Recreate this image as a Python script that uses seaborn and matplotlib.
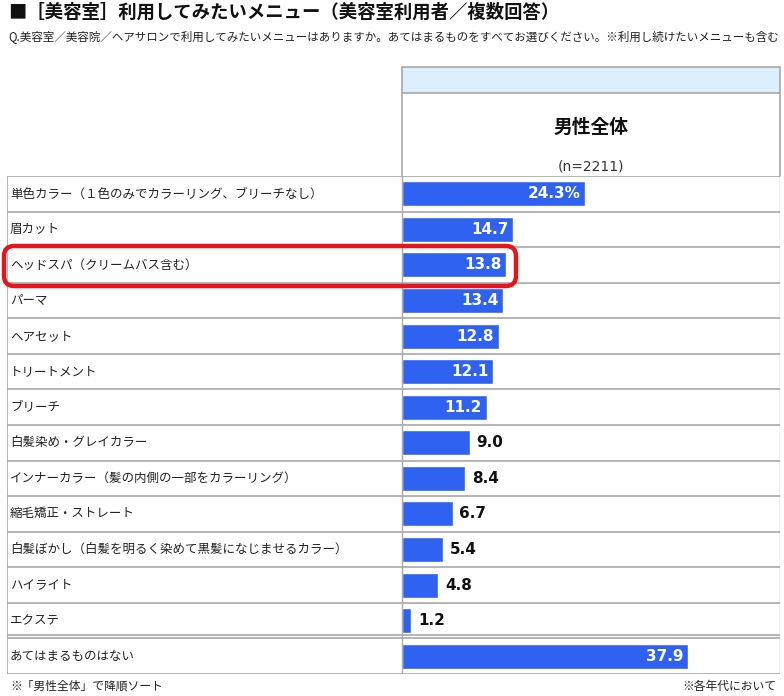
import matplotlib
matplotlib.use("Agg")
import matplotlib.pyplot as plt
from matplotlib.patches import Rectangle, FancyBboxPatch
import pandas as pd
import seaborn as sns

# データ
menus = [
    "単色カラー（１色のみでカラーリング、ブリーチなし）",
    "眉カット",
    "ヘッドスパ（クリームバス含む）",
    "パーマ",
    "ヘアセット",
    "トリートメント",
    "ブリーチ",
    "白髪染め・グレイカラー",
    "インナーカラー（髪の内側の一部をカラーリング）",
    "縮毛矯正・ストレート",
    "白髪ぼかし（白髪を明るく染めて黒髪になじませるカラー）",
    "ハイライト",
    "エクステ",
    "あてはまるものはない",
]
values = [24.3, 14.7, 13.8, 13.4, 12.8, 12.1, 11.2, 9.0, 8.4, 6.7, 5.4, 4.8, 1.2, 37.9]
value_labels = ["24.3%", "14.7", "13.8", "13.4", "12.8", "12.1", "11.2",
                "9.0", "8.4", "6.7", "5.4", "4.8", "1.2", "37.9"]
column_name = "男性全体"
n_label = "(n=2211)"

df = pd.DataFrame({"menu": menus, "value": values})

sns.set_style("white")
plt.rcParams["font.family"] = ["Noto Sans CJK JP", "DejaVu Sans"]

W, H = 784, 696
fig = plt.figure(figsize=(W / 100, H / 100), dpi=100)

# ピクセル -> figure座標
def fx(x):
    return x / W

def fy(y):
    return 1 - y / H

# 表の位置 (px)
left, div, right = 7, 402, 780
top, bottom = 176, 674
px_per_unit = 7.55

ax = fig.add_axes([fx(left), fy(bottom), fx(right) - fx(left), (bottom - top) / H])
sns.barplot(data=df, x="value", y="menu", color="#3062F2", width=0.7,
            orient="h", ax=ax, saturation=1)
ax.set_xlim(-(div - left) / px_per_unit, (right - div) / px_per_unit)
ax.set_ylim(len(menus) - 0.5, -0.5)
ax.set_xticks([])
ax.set_yticks([])
ax.set_xlabel("")
ax.set_ylabel("")
for s in ax.spines.values():
    s.set_visible(False)

grid_c = "#A8A8A8"
# 行の区切り線
for i in range(len(menus) + 1):
    yb = i - 0.5
    ax.axhline(yb, color=grid_c, lw=1.2)
ax.axhline(len(menus) - 1.5 - 0.09, color=grid_c, lw=1.2)
ax.axvline(0, color=grid_c, lw=1.0)
ax.axvline(ax.get_xlim()[0] + 0.05, color=grid_c, lw=1.2)
ax.axvline(ax.get_xlim()[1] - 0.05, color=grid_c, lw=1.0)

label_x = (10 - div) / px_per_unit
for i, (m, v, t) in enumerate(zip(menus, values, value_labels)):
    ax.text(label_x, i, m, ha="left", va="center", fontsize=9.0, color="#222222")
    if v >= 10:
        ax.text(v - 0.6, i, t, ha="right", va="center", fontsize=11,
                fontweight="bold", color="white", family=["DejaVu Sans"])
    else:
        ax.text(v + 0.9, i, t, ha="left", va="center", fontsize=11,
                fontweight="bold", color="#111111", family=["DejaVu Sans"])

# ヘッダー
fig.add_artist(Rectangle((fx(div), fy(93)), fx(right) - fx(div), (93 - 67) / H,
                         transform=fig.transFigure, facecolor="#DDEFFC",
                         edgecolor="none"))
for y in (67, 93):
    fig.add_artist(plt.Line2D([fx(div), fx(right)], [fy(y), fy(y)],
                              transform=fig.transFigure, color=grid_c, lw=1.2))
for x in (div, right):
    fig.add_artist(plt.Line2D([fx(x), fx(x)], [fy(67), fy(top)],
                              transform=fig.transFigure, color=grid_c, lw=1.2))
fig.text(fx((div + right) / 2), fy(127), column_name, ha="center", va="center",
         fontsize=13.5, fontweight="bold", color="#111111")
fig.text(fx((div + right) / 2), fy(167), n_label, ha="center", va="center",
         fontsize=10, color="#333333", family=["DejaVu Sans"])

# タイトル
fig.text(fx(8), fy(12), "■［美容室］利用してみたいメニュー（美容室利用者／複数回答）",
         ha="left", va="center", fontsize=13.2, fontweight="bold", color="#111111")
fig.text(fx(8), fy(37),
         "Q.美容室／美容院／ヘアサロンで利用してみたいメニューはありますか。あてはまるものをすべてお選びください。※利用し続けたいメニューも含む",
         ha="left", va="center", fontsize=8.3, color="#222222")

# 注記
fig.text(fx(10), fy(686), "※「男性全体」で降順ソート", ha="left", va="center",
         fontsize=8.5, color="#222222")
fig.text(fx(776), fy(686), "※各年代において", ha="right", va="center",
         fontsize=8.5, color="#222222")

# 強調枠
fig.add_artist(FancyBboxPatch((4 / 100, (H - 286) / 100), 512 / 100, 40 / 100,
                              boxstyle="round,pad=0,rounding_size=0.1",
                              transform=fig.dpi_scale_trans, facecolor="none",
                              edgecolor="#E8141B", lw=3.2))

fig.savefig("out.png", dpi=100)
